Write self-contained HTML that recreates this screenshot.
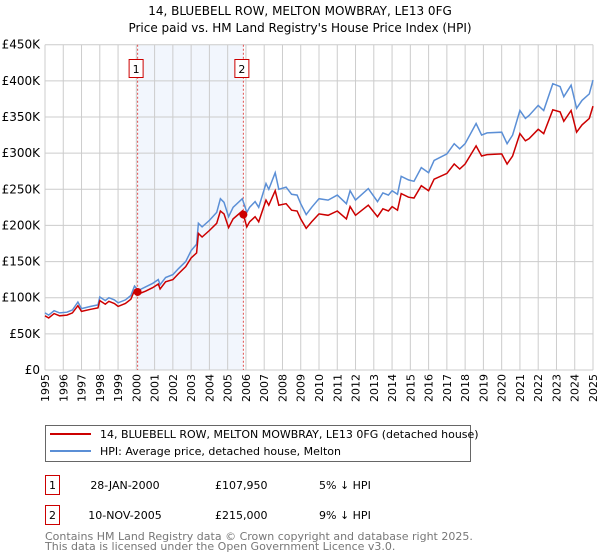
<!DOCTYPE html>
<html><head><meta charset="utf-8"><style>
body{margin:0;background:#fff;}
svg{display:block;font-family:"DejaVu Sans","Liberation Sans",sans-serif;}
</style></head><body>
<svg id="chart" width="600" height="560">
<text x="300" y="15" text-anchor="middle" font-size="12" fill="#000">14, BLUEBELL ROW, MELTON MOWBRAY, LE13 0FG</text>
<text x="300" y="32" text-anchor="middle" font-size="12" fill="#000">Price paid vs. HM Land Registry's House Price Index (HPI)</text>
<g id="grid"></g><g id="series"></g><g id="axes"></g>
<g>
<rect x="45.5" y="425.5" width="425" height="36" fill="#fff" stroke="#666"/>
<line x1="50" y1="434" x2="91" y2="434" stroke="#cc0000" stroke-width="2"/>
<text x="100" y="438" font-size="11">14, BLUEBELL ROW, MELTON MOWBRAY, LE13 0FG (detached house)</text>
<line x1="50" y1="451" x2="91" y2="451" stroke="#5b8fd6" stroke-width="2"/>
<text x="100" y="455" font-size="11">HPI: Average price, detached house, Melton</text>
</g>
<g font-size="11">
<rect x="45.5" y="475.5" width="14" height="19" fill="#fff" stroke="#cc0000"/>
<text x="52.5" y="489" text-anchor="middle">1</text>
<text x="125" y="489" text-anchor="middle">28-JAN-2000</text>
<text x="215" y="489">£107,950</text>
<text x="319" y="489">5% ↓ HPI</text>
<rect x="45.5" y="505.5" width="14" height="19" fill="#fff" stroke="#cc0000"/>
<text x="52.5" y="519" text-anchor="middle">2</text>
<text x="125" y="519" text-anchor="middle">10-NOV-2005</text>
<text x="215" y="519">£215,000</text>
<text x="319" y="519">9% ↓ HPI</text>
</g>
<text x="45" y="540" font-size="11" fill="#777">Contains HM Land Registry data © Crown copyright and database right 2025.</text>
<text x="45" y="550" font-size="11" fill="#777">This data is licensed under the Open Government Licence v3.0.</text>
</svg>
<script>
const dates=[1995.0,1995.2,1995.5,1995.8,1996.2,1996.5,1996.8,1997.0,1997.5,1997.9,1998.0,1998.3,1998.5,1998.8,1999.0,1999.4,1999.7,1999.9,2000.1,2000.5,2000.9,2001.2,2001.3,2001.6,2002.0,2002.3,2002.7,2003.0,2003.3,2003.4,2003.6,2004.0,2004.4,2004.6,2004.8,2005.05,2005.3,2005.8,2006.05,2006.2,2006.5,2006.7,2007.1,2007.25,2007.6,2007.8,2008.2,2008.5,2008.8,2009.0,2009.3,2009.6,2010.0,2010.5,2011.0,2011.5,2011.7,2012.0,2012.7,2013.2,2013.5,2013.8,2014.0,2014.3,2014.5,2014.9,2015.2,2015.6,2016.0,2016.3,2017.0,2017.4,2017.7,2018.0,2018.6,2018.9,2019.2,2020.0,2020.3,2020.6,2021.0,2021.3,2021.5,2022.0,2022.3,2022.8,2023.2,2023.4,2023.8,2024.1,2024.4,2024.8,2025.0];
const hpiValues=[79,76,82,79,80,83,94,85,88,90,101,96,100,97,93,97,103,116,110,115,120,125,118,128,132,140,150,165,174,203,198,207,218,237,232,212,225,237,218,225,233,225,258,250,273,250,253,243,242,230,215,225,237,235,242,230,248,235,251,233,245,242,248,243,268,263,261,280,273,290,299,313,306,313,341,325,328,329,313,325,359,348,352,366,359,396,392,378,394,362,373,382,401];
const paidValues=[75,72,78,75,76,79,89,81,84,86,96,91,95,92,88,92,98,110,105,109,114,119,112,122,125,133,143,155,162,189,184,193,203,220,216,197,209,220,198,205,212,205,235,228,248,228,230,221,220,209,196,205,216,214,220,209,226,214,228,212,223,220,226,221,244,239,238,255,248,264,272,285,278,285,310,296,298,299,285,296,327,317,320,333,327,360,357,344,359,329,339,348,365];
const yTicks=[0,50,100,150,200,250,300,350,400,450];
const yTickLabels=["£0","£50K","£100K","£150K","£200K","£250K","£300K","£350K","£400K","£450K"];
const xTicks=[1995,1996,1997,1998,1999,2000,2001,2002,2003,2004,2005,2006,2007,2008,2009,2010,2011,2012,2013,2014,2015,2016,2017,2018,2019,2020,2021,2022,2023,2024,2025];
const saleDates=[2000.07,2005.86];
const salePrices=[107.95,215];
const saleLabels=["1","2"];
const NS="http://www.w3.org/2000/svg";
const L=45,R=593,T=44.7,B=370;
const x=v=>L+(v-1995)/30*(R-L);
const y=v=>B-v/450*(B-T);
function mk(tag,attrs,parent){const e=document.createElementNS(NS,tag);for(const k in attrs)e.setAttribute(k,attrs[k]);parent.appendChild(e);return e;}
const grid=document.getElementById('grid'),ser=document.getElementById('series'),ax=document.getElementById('axes');
const shade=mk('rect',{x:x(saleDates[0]),y:T,width:x(saleDates[1])-x(saleDates[0]),height:B-T,fill:'#eef3fc',opacity:0.75},grid);


xTicks.forEach(t=>{const l=mk('line',{x1:x(t),x2:x(t),y1:T,y2:B,stroke:'#ccc','stroke-width':1},grid);


const tx=mk('text',{x:0,y:0,'font-size':11,'text-anchor':'end',transform:`translate(${x(t)+4},${B+4}) rotate(-90)`},ax);tx.textContent=t;

});
yTicks.forEach((t,i)=>{const l=mk('line',{x1:L,x2:R,y1:y(t),y2:y(t),stroke:'#ccc','stroke-width':1},grid);


const tx=mk('text',{x:L-5,y:y(t)+4,'font-size':12,'text-anchor':'end'},ax);tx.textContent=yTickLabels[i];

});
saleDates.forEach((d,i)=>{const l=mk('line',{x1:x(d),x2:x(d),y1:T,y2:B,stroke:'#e05050','stroke-dasharray':'2,2','stroke-width':1},ser);


const r=mk('rect',{x:x(d)-8.5,y:59.5,width:14,height:18,fill:'#fff',stroke:'#cc0000'},ser);


const tx=mk('text',{x:x(d)-1.5,y:73,'font-size':11,'text-anchor':'middle'},ser);tx.textContent=saleLabels[i];

});
const pts=a=>dates.map((d,i)=>x(d).toFixed(1)+','+y(a[i]).toFixed(1)).join(' ');
const hl=mk('polyline',{points:pts(hpiValues),fill:'none',stroke:'#5b8fd6','stroke-width':1.5},ser);


const pl=mk('polyline',{points:pts(paidValues),fill:'none',stroke:'#cc0000','stroke-width':1.5},ser);


saleDates.forEach((d,i)=>{const c=mk('circle',{cx:x(d),cy:y(salePrices[i]),r:4,fill:'#cc0000'},ser);

});
</script>
</body></html>
